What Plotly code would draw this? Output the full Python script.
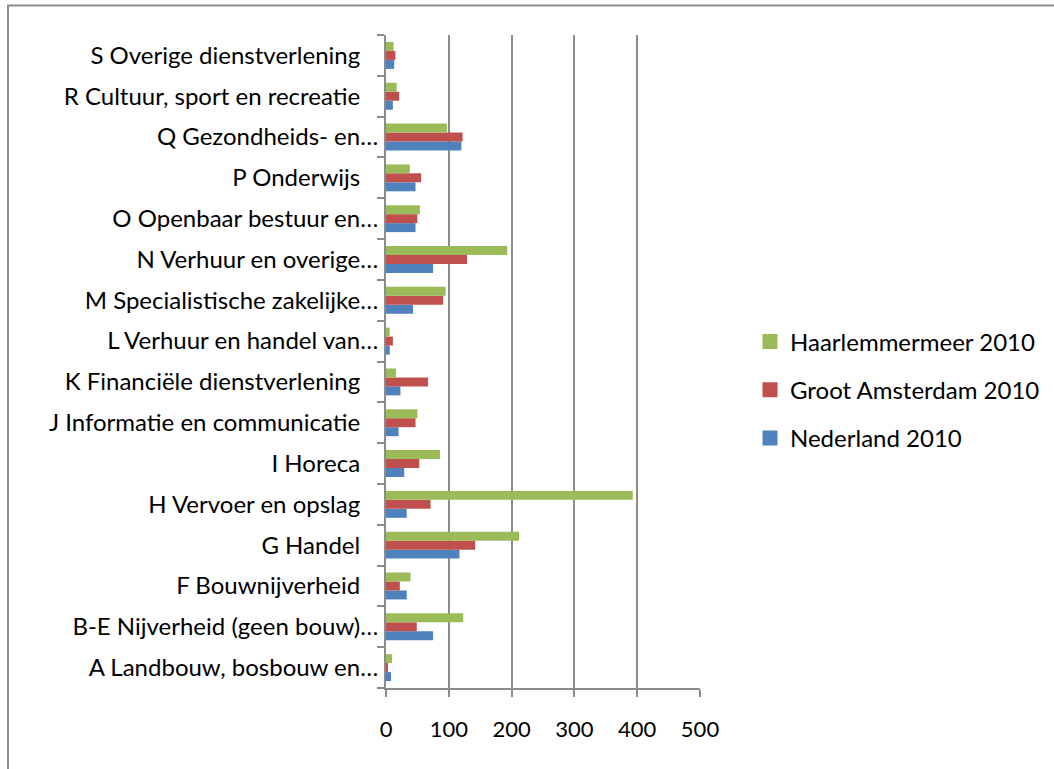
import plotly.graph_objects as go

categories = [
    "A Landbouw, bosbouw en…",
    "B-E Nijverheid (geen bouw)…",
    "F Bouwnijverheid\u2003",
    "G Handel\u2003",
    "H Vervoer en opslag\u2003",
    "I Horeca\u2003",
    "J Informatie en communicatie\u2003",
    "K Financiële dienstverlening\u2003",
    "L Verhuur en handel van…",
    "M Specialistische zakelijke…",
    "N Verhuur en overige…",
    "O Openbaar bestuur en…",
    "P Onderwijs\u2003",
    "Q Gezondheids- en…",
    "R Cultuur, sport en recreatie\u2003",
    "S Overige dienstverlening\u2003",
]

nederland = [8, 75, 33, 117, 33, 29, 20, 23, 6, 43, 75, 47, 47, 120, 11, 13]
groot_amsterdam = [2.6, 49, 22, 142, 71, 53, 47, 67, 11, 91, 129, 50, 56, 122, 21, 15]
haarlemmermeer = [9.5, 123, 39, 212, 393, 86, 50, 16, 6, 95, 193, 54, 38, 97, 17, 12]

x_ticks = [0, 100, 200, 300, 400, 500]

series = [
    ("Nederland 2010", nederland, "#4F81BD", 3),
    ("Groot Amsterdam 2010", groot_amsterdam, "#C0504D", 2),
    ("Haarlemmermeer 2010", haarlemmermeer, "#9BBB59", 1),
]

FONT = "Lato, 'Open Sans', sans-serif"
GRID = "#8C8C8C"
FS = 24

fig = go.Figure()
for name, vals, color, rank in series:
    fig.add_trace(go.Bar(
        y=categories, x=vals, name=name, orientation="h",
        marker=dict(color=color, line=dict(width=0)),
        showlegend=False,
    ))
for name, vals, color, rank in series:
    # legend-only entry with a square swatch
    fig.add_trace(go.Scatter(
        x=[None], y=[None], mode="markers", name=name,
        marker=dict(symbol="square", size=15, color=color),
        legendgroup=name, legendrank=rank, showlegend=True,
    ))

L, R, T, B = 386, 354, 35, 81
W, H = 1054, 769
pw, ph = W - L - R, H - T - B


def py(y_px):
    return 1 - (y_px - T) / ph


def px(x_px):
    return (x_px - L) / pw


fig.update_layout(
    width=W, height=H,
    margin=dict(l=L, r=R, t=T, b=B, autoexpand=False),
    barmode="group", bargap=0.34, bargroupgap=0,
    plot_bgcolor="white", paper_bgcolor="white",
    font=dict(family=FONT, size=FS, color="black"),
    showlegend=True,
    legend=dict(
        x=px(750), xanchor="left",
        y=py(390), yanchor="middle",
        traceorder="grouped", tracegroupgap=14,
        font=dict(family=FONT, size=FS, color="black"),
        itemwidth=30,
    ),
    xaxis=dict(
        range=[0, 500], tickvals=x_ticks, ticktext=[str(v) for v in x_ticks],
        showgrid=True, gridcolor=GRID, gridwidth=2,
        showline=True, linecolor=GRID, linewidth=2,
        ticks="outside", ticklen=7, tickcolor=GRID, tickwidth=2,
        ticklabelstandoff=14, zeroline=False,
        tickfont=dict(size=22), automargin=False,
    ),
    yaxis=dict(
        type="category", categoryorder="array", categoryarray=categories,
        showline=True, linecolor=GRID, linewidth=2,
        ticks="outside", ticklen=7, tickcolor=GRID, tickwidth=2,
        tickson="boundaries", ticklabelstandoff=1,
        showgrid=False, zeroline=False, automargin=False,
    ),
    shapes=[
        dict(type="line", xref="paper", yref="paper",
             x0=px(7), x1=px(1054), y0=py(5.5), y1=py(5.5),
             line=dict(color=GRID, width=2)),
        dict(type="line", xref="paper", yref="paper",
             x0=px(8), x1=px(8), y0=py(5.5), y1=py(769),
             line=dict(color=GRID, width=2)),
    ],
)

fig.write_html(
    "out.html",
    config={"displayModeBar": False},
    post_script="document.body.style.margin='0';document.body.style.overflow='hidden';window.scrollTo(0,0);",
)
